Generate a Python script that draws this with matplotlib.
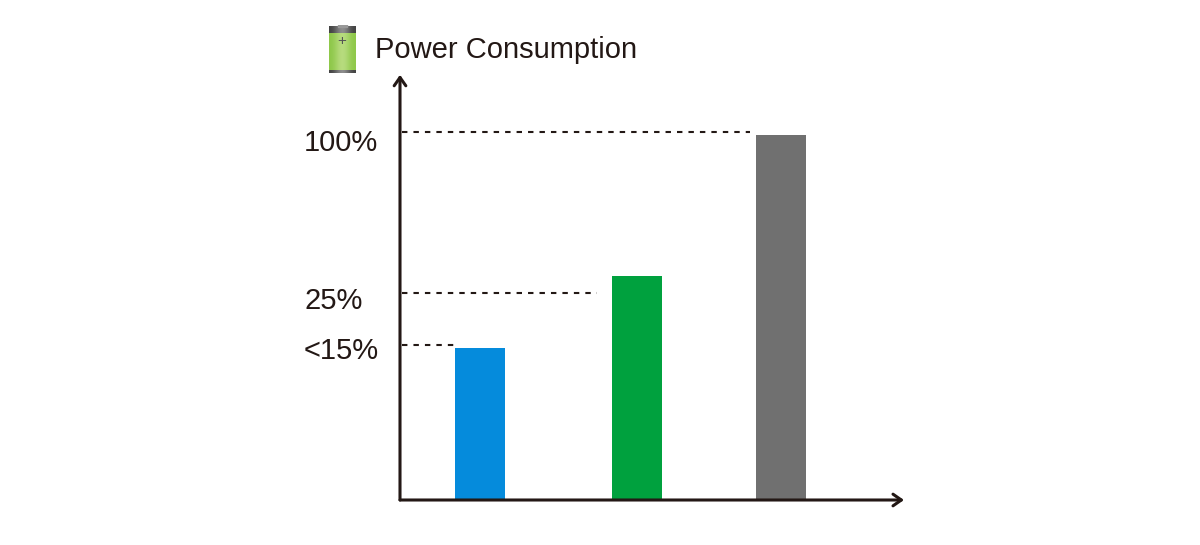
import numpy as np
import matplotlib
matplotlib.use('Agg')
import matplotlib.pyplot as plt

plt.rcParams['font.family'] = ['Liberation Sans', 'DejaVu Sans']

W, H = 1200, 545

# values, 100 = top of the grey bar
bar_heights = [41.6, 61.4, 100]
bar_colors = ['#058bdc', '#00a13e', '#707070']
level_values = [42.5, 56.7, 100.8]
level_labels = ['<15%', '25%', '100%']
title = 'Power Consumption'

# positions of the bars along the x axis (pixels from the y axis)
bar_pos = [80, 236.5, 381]
level_ends = [54, 197, 350]
label_y = [40.9, 54.5, 97.9]

fig = plt.figure(figsize=(W / 100, H / 100), dpi=100)

# axes box: origin at (400, 500), one y unit = 3.65 px
x0, y0 = 400, 500
ax = fig.add_axes([x0 / W, 1 - y0 / H, 505 / W, 425 / H])
ax.set_xlim(0, 505)
ax.set_ylim(0, 425 / 3.65)
ax.axis('off')

ax.bar(bar_pos, bar_heights, width=50, color=bar_colors, zorder=2)

for v, e in zip(level_values, level_ends):
    ax.plot([2, e], [v, v], color='#231815', lw=1.5, dashes=(2.6, 2.9), zorder=1)

for s, y in zip(level_labels, label_y):
    ax.text(-96, y, s, fontsize=21, color='#231815', ha='left', va='center')

arrow = dict(arrowstyle='->,head_length=0.6,head_width=0.42', color='#231815',
             lw=2.2, shrinkA=0, shrinkB=0)
ax.annotate('', xy=(504, 0), xytext=(0, 0), arrowprops=arrow, annotation_clip=False)
ax.annotate('', xy=(0, 116.5), xytext=(0, 0), arrowprops=arrow, annotation_clip=False)

fig.text(375 / W, 1 - 50 / H, title, fontsize=21, color='#231815', ha='left', va='center')

# battery icon
bat = fig.add_axes([329 / W, 1 - 73 / H, 27 / W, 48 / H])
bat.axis('off')
green = np.array([[0.55, 0.78, 0.28], [0.80, 0.90, 0.60], [0.55, 0.78, 0.28]])
grey = np.array([[0.25] * 3, [0.70] * 3, [0.25] * 3])
bat.imshow(green[None, :, :], extent=(0, 27, 45, 8), aspect='auto', interpolation='bicubic')
bat.imshow(grey[None, :, :], extent=(0, 27, 8, 1.5), aspect='auto', interpolation='bicubic')
bat.imshow(grey[None, :, :], extent=(0, 27, 48, 45), aspect='auto', interpolation='bicubic')
bat.fill_between([9, 18], 0, 1.5, color='#999999')
bat.set_xlim(0, 27)
bat.set_ylim(48, 0)
bat.text(12.7, 16.5, '+', fontsize=11, color='#555555', ha='center', va='center')

fig.savefig('out.png', dpi=100, facecolor='white')
